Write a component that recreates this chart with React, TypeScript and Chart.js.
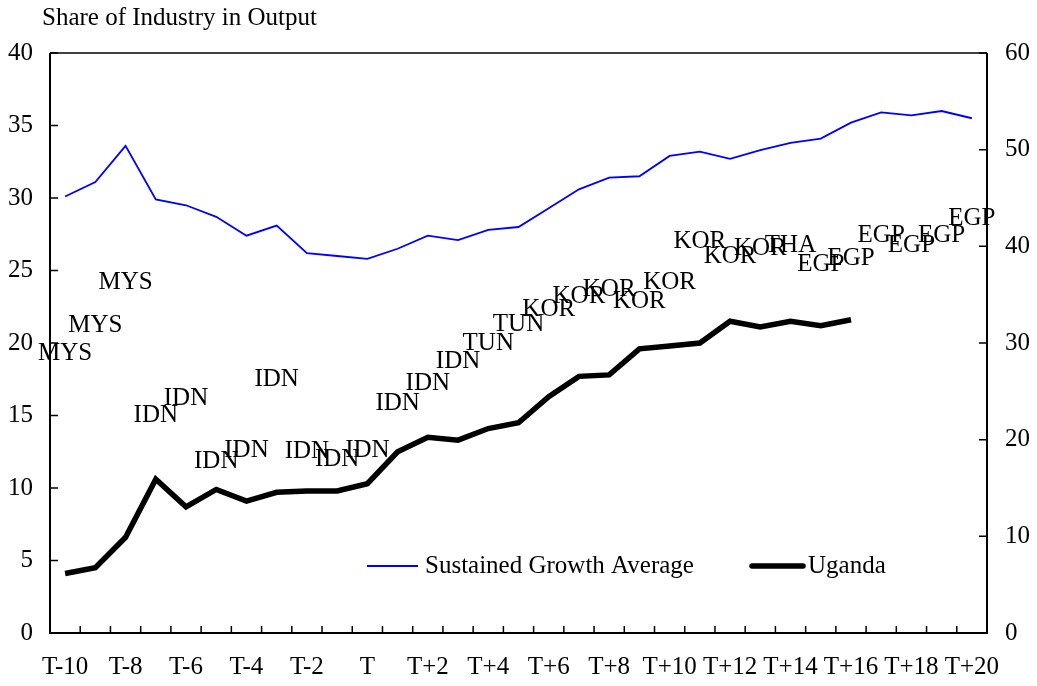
import React, { useEffect, useRef } from "react";
import { Chart, registerables } from "chart.js";

Chart.register(...registerables);

const categories = [
  "T-10", "T-9", "T-8", "T-7", "T-6", "T-5", "T-4", "T-3", "T-2", "T-1", "T",
  "T+1", "T+2", "T+3", "T+4", "T+5", "T+6", "T+7", "T+8", "T+9", "T+10",
  "T+11", "T+12", "T+13", "T+14", "T+15", "T+16", "T+17", "T+18", "T+19", "T+20",
];

const sustainedGrowth = [
  30.1, 31.1, 33.6, 29.9, 29.5, 28.7, 27.4, 28.1, 26.2, 26.0, 25.8,
  26.5, 27.4, 27.1, 27.8, 28.0, 29.3, 30.6, 31.4, 31.5, 32.9,
  33.2, 32.7, 33.3, 33.8, 34.1, 35.2, 35.9, 35.7, 36.0, 35.5,
];

const uganda = [
  4.1, 4.5, 6.6, 10.6, 8.7, 9.9, 9.1, 9.7, 9.8, 9.8, 10.3,
  12.5, 13.5, 13.3, 14.1, 14.5, 16.3, 17.7, 17.8, 19.6, 19.8,
  20.0, 21.5, 21.1, 21.5, 21.2, 21.6, null, null, null, null,
];

const leaderCountry = [
  "MYS", "MYS", "MYS", "IDN", "IDN", "IDN", "IDN", "IDN", "IDN", "IDN", "IDN",
  "IDN", "IDN", "IDN", "TUN", "TUN", "KOR", "KOR", "KOR", "KOR", "KOR",
  "KOR", "KOR", "KOR", "THA", "EGP", "EGP", "EGP", "EGP", "EGP", "EGP",
];

const leaderShare = [
  19.3, 21.2, 24.2, 15.0, 16.2, 11.8, 12.6, 17.5, 12.5, 12.0, 12.6,
  15.8, 17.2, 18.7, 20.0, 21.3, 22.3, 23.2, 23.7, 22.9, 24.2,
  27.0, 26.0, 26.5, 26.7, 25.4, 25.8, 27.4, 26.7, 27.4, 28.6,
];

const leftTicks = [0, 5, 10, 15, 20, 25, 30, 35, 40];
const rightTicks = [0, 10, 20, 30, 40, 50, 60];

const chartTitle = "Share of Industry in Output";
const FONT = "'Liberation Serif', 'Times New Roman', serif";
const TEXT_SIZE = 25;

const framePlugin = {
  id: "frame",
  afterDatasetsDraw(chart: any) {
    const { ctx, chartArea } = chart;
    const { left, right, top, bottom } = chartArea;
    const x = chart.scales.x;
    const yL = chart.scales.y;
    const yR = chart.scales.y2;
    ctx.save();
    ctx.strokeStyle = "#000";
    ctx.lineWidth = 2;
    ctx.beginPath();
    ctx.moveTo(left, top);
    ctx.lineTo(left, bottom);
    ctx.lineTo(right, bottom);
    ctx.lineTo(right, top);
    ctx.stroke();
    ctx.lineWidth = 1.5;
    ctx.beginPath();
    ctx.moveTo(left, top);
    ctx.lineTo(right, top);
    ctx.stroke();
    ctx.lineWidth = 1.5;
    ctx.beginPath();
    for (let i = 1; i < categories.length; i++) {
      const px = (x.getPixelForValue(i - 1) + x.getPixelForValue(i)) / 2;
      ctx.moveTo(px, bottom);
      ctx.lineTo(px, bottom - 7);
    }
    leftTicks.forEach((v) => {
      const py = yL.getPixelForValue(v);
      ctx.moveTo(left, py);
      ctx.lineTo(left + 8, py);
    });
    rightTicks.forEach((v) => {
      const py = yR.getPixelForValue(v);
      ctx.moveTo(right, py);
      ctx.lineTo(right - 8, py);
    });
    ctx.stroke();

    const meta = chart.getDatasetMeta(2);
    ctx.fillStyle = "#000";
    ctx.font = `${TEXT_SIZE}px ${FONT}`;
    ctx.textAlign = "center";
    ctx.textBaseline = "middle";
    meta.data.forEach((pt: any, i: number) => {
      ctx.fillText(leaderCountry[i], pt.x, pt.y);
    });

    ctx.textAlign = "left";
    ctx.fillText(chartTitle, 42, 18);

    const ly = 566;
    const items = [
      { ds: chart.data.datasets[0], x0: 367, x1: 418, tx: 425 },
      { ds: chart.data.datasets[1], x0: 752, x1: 803, tx: 808 },
    ];
    items.forEach((it) => {
      ctx.strokeStyle = it.ds.borderColor;
      ctx.lineWidth = it.ds.borderWidth;
      ctx.lineCap = it.ds.borderWidth > 3 ? "round" : "butt";
      ctx.beginPath();
      ctx.moveTo(it.x0, ly);
      ctx.lineTo(it.x1, ly);
      ctx.stroke();
      ctx.fillStyle = "#000";
      ctx.fillText(it.ds.label, it.tx, ly);
    });
    ctx.restore();
  },
};

export default function App() {
  const canvasRef = useRef<HTMLCanvasElement | null>(null);

  useEffect(() => {
    if (!canvasRef.current) return;
    const chart = new Chart(canvasRef.current, {
      type: "line",
      data: {
        labels: categories,
        datasets: [
          {
            label: "Sustained Growth Average",
            data: sustainedGrowth,
            borderColor: "#0000FF",
            borderWidth: 1.8,
            pointRadius: 0,
            tension: 0,
            yAxisID: "y",
          },
          {
            label: "Uganda",
            data: uganda,
            borderColor: "#000000",
            borderWidth: 5.5,
            pointRadius: 0,
            tension: 0,
            spanGaps: false,
            yAxisID: "y",
          },
          {
            label: "Leading country",
            data: leaderShare,
            showLine: false,
            pointRadius: 0,
            borderColor: "rgba(0,0,0,0)",
            yAxisID: "y",
          },
        ],
      },
      options: {
        animation: false,
        responsive: true,
        maintainAspectRatio: false,
        layout: { padding: { top: 53, left: 0, right: 0, bottom: 0 } },
        plugins: {
          legend: { display: false },
          title: { display: false },
          tooltip: { enabled: false },
        },
        scales: {
          x: {
            type: "category",
            offset: true,
            grid: { display: false, offset: true },
            border: { display: false },
            ticks: {
              autoSkip: false,
              maxRotation: 0,
              minRotation: 0,
              padding: 11,
              color: "#000",
              font: { family: FONT, size: TEXT_SIZE },
              callback: (_v: any, i: number) => (i % 2 === 0 ? categories[i] : ""),
            },
            afterFit: (s: any) => {
              s.height = 53;
            },
          },
          y: {
            position: "left",
            min: 0,
            max: 40,
            grid: { display: false },
            border: { display: false },
            ticks: {
              stepSize: 5,
              padding: 9,
              color: "#000",
              font: { family: FONT, size: TEXT_SIZE },
            },
            afterFit: (s: any) => {
              s.width = 50;
            },
          },
          y2: {
            position: "right",
            min: 0,
            max: 60,
            grid: { display: false },
            border: { display: false },
            ticks: {
              stepSize: 10,
              padding: 10,
              color: "#000",
              font: { family: FONT, size: TEXT_SIZE },
            },
            afterFit: (s: any) => {
              s.width = 50;
            },
          },
        },
      },
      plugins: [framePlugin],
    });
    return () => chart.destroy();
  }, []);

  return (
    <div style={{ position: "fixed", left: 0, top: 0, width: 1037, height: 686, background: "#fff" }}>
      <canvas ref={canvasRef} />
    </div>
  );
}
